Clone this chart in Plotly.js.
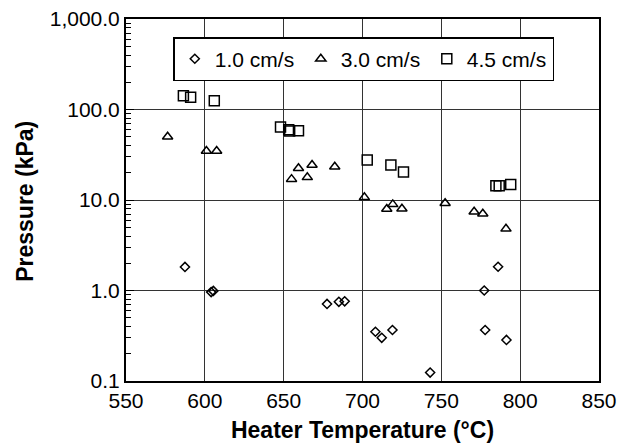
<!DOCTYPE html>
<html>
<head>
<meta charset="utf-8">
<script src="https://cdn.plot.ly/plotly-3.0.1.min.js"></script>
<style>html,body{margin:0;padding:0;background:#fff;}#chart{width:630px;height:446px;}</style>
</head>
<body>
<div id="chart"></div>
<script>
const seriesNames = ["1.0 cm/s", "3.0 cm/s", "4.5 cm/s"];

const temp10 = [587.4, 604, 605.4, 677.5, 685, 688.7, 708.2, 712.2, 719, 742.9, 777.2, 777.8, 786, 791.3];
const pres10 = [1.82, 0.96, 0.99, 0.71, 0.75, 0.76, 0.35, 0.30, 0.366, 0.124, 1.0, 0.366, 1.83, 0.284];

const temp30 = [576.4, 601, 607.5, 655, 659.4, 665, 668, 682.4, 701.2, 715.4, 719.2, 725, 752.4, 770.8, 776.3, 791];
const pres30 = [50, 34.8, 34.8, 17, 22.4, 17.8, 24.4, 23.3, 10.7, 7.96, 8.95, 8.0, 9.2, 7.4, 7.06, 4.8];

const temp45 = [586.4, 591, 606, 648, 653.2, 653.8, 659.4, 703, 718, 726, 784.6, 786.7, 794];
const pres45 = [142, 137, 125, 64, 59.8, 58, 58.3, 27.7, 24.4, 20.4, 14.4, 14.4, 14.8];

const yTickVals = [0.1, 1, 10, 100, 1000];
const yTickText = ["0.1", "1.0", "10.0", "100.0", "1,000.0"];
const xTickVals = [550, 600, 650, 700, 750, 800, 850];

const minorVals = [];
[0.1, 1, 10, 100].forEach(d => { for (let k = 2; k <= 9; k++) minorVals.push(d * k); });

const mk = (sym, size) => ({symbol: sym, size: size, color: '#000', line: {color: '#000', width: 1.5}});

const data = [
  {x: temp10, y: pres10, name: seriesNames[0], mode: 'markers', type: 'scatter', marker: mk('diamond-open', 7)},
  {x: temp30, y: pres30, name: seriesNames[1], mode: 'markers', type: 'scatter', marker: mk('triangle-up-open', 9)},
  {x: temp45, y: pres45, name: seriesNames[2], mode: 'markers', type: 'scatter', marker: mk('square-open', 10)}
];

const layout = {
  width: 630, height: 446,
  margin: {l: 126, r: 31, t: 19, b: 65},
  paper_bgcolor: '#fff', plot_bgcolor: '#fff',
  font: {family: 'Liberation Sans, Arial, sans-serif', color: '#000', size: 21},
  showlegend: true,
  legend: {
    orientation: 'h', x: 0.1, y: 0.95, xanchor: 'left', yanchor: 'top',
    bgcolor: '#fff', bordercolor: '#000', borderwidth: 1.5,
    font: {size: 21}, itemwidth: 30, entrywidth: 81, entrywidthmode: 'pixels'
  },
  xaxis: {
    range: [550, 850], tickmode: 'array', tickvals: xTickVals,
    showgrid: true, gridcolor: '#333', gridwidth: 1,
    zeroline: false, showline: true, linecolor: '#000', linewidth: 2, mirror: true,
    ticks: '', ticklen: 0,
    tickfont: {size: 21},
    title: {text: '<b>Heater Temperature (°C)</b>', font: {size: 23}, standoff: 11}
  },
  yaxis: {
    type: 'log', range: [-1, 3], tickmode: 'array', tickvals: yTickVals, ticktext: yTickText,
    showgrid: true, gridcolor: '#333', gridwidth: 1,
    zeroline: false, showline: true, linecolor: '#000', linewidth: 2, mirror: true,
    ticks: 'inside', ticklen: 8, tickcolor: '#000',
    minor: {tickmode: 'array', tickvals: minorVals, ticks: 'inside', ticklen: 5, tickcolor: '#000', showgrid: false},
    tickfont: {size: 21}
  },
  annotations: [{
    text: '<b>Pressure (kPa)</b>', textangle: -90, showarrow: false,
    xref: 'paper', yref: 'paper', x: -0.2135, y: 0.495, xanchor: 'center', yanchor: 'middle',
    font: {size: 23}
  }]
};

Plotly.newPlot('chart', data, layout, {staticPlot: true, displayModeBar: false});
</script>
</body>
</html>
